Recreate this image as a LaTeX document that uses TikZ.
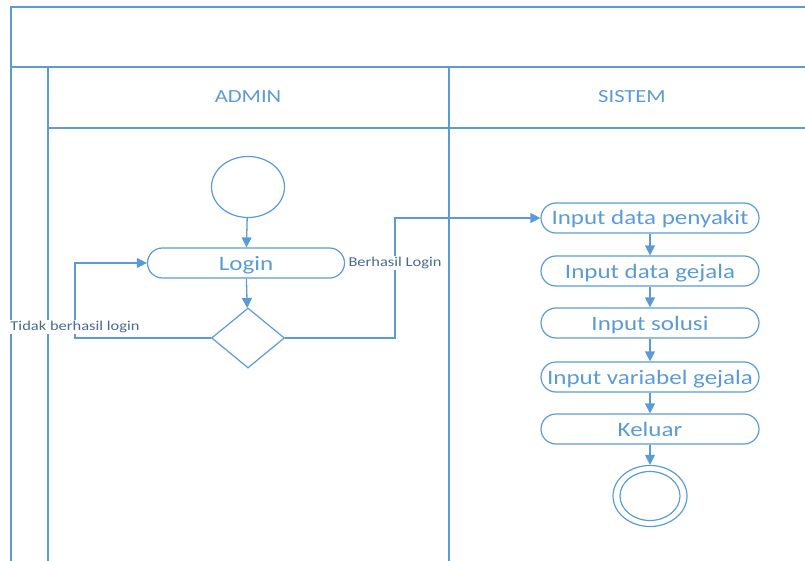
\documentclass[tikz,border=0pt]{standalone}
\usepackage{fontspec}
\setmainfont{Carlito}[FakeStretch=1.22]
\usetikzlibrary{arrows.meta,shapes.geometric}
\definecolor{laneblue}{HTML}{5B9BD5}
\definecolor{labelblue}{HTML}{4A6A94}
\tikzset{
  lane/.style={draw=laneblue, line width=1.3pt},
  action/.style={draw=laneblue, line width=1.2pt, rectangle, rounded corners=15pt,
    minimum height=30pt, inner sep=0pt, text=laneblue, text height=15pt, text depth=1pt,
    font=\fontsize{20.5}{20.5}\selectfont},
  startnode/.style={draw=laneblue, line width=1.2pt, ellipse, minimum width=73pt,
    minimum height=61pt, inner sep=0pt},
  decision/.style={draw=laneblue, line width=1.2pt, diamond, minimum width=73pt,
    minimum height=60pt, inner sep=0pt},
  flow/.style={draw=laneblue, line width=1.3pt, -{Triangle[length=10pt,width=10pt]}},
  guard/.style={fill=white, inner sep=1pt, text=labelblue,
    font=\fontsize{13.5}{13.5}\selectfont},
  lanetitle/.style={text=laneblue, font=\fontsize{18.5}{18.5}\selectfont}
}
\begin{document}
\begin{tikzpicture}[x=1pt,y=-1pt]
\useasboundingbox (0,0) rectangle (805,561);

% swimlane frame
\draw[lane] (805,7) -- (11,7) -- (11,561);
\draw[lane] (11,67) -- (805,67);
\draw[lane] (48,67) -- (48,561);
\draw[lane] (449,67) -- (449,561);
\draw[lane] (48,128) -- (805,128);
\node[lanetitle] (tadmin) at (248,97) {ADMIN};
\node[lanetitle] (tsistem) at (632,97) {SISTEM};

% admin lane
\node[startnode] (start) at (248,187) {};
\node[action, minimum width=197pt] (login) at (246,263) {Login};
\node[decision] (dec) at (248,338) {};

% sistem lane
\node[action, minimum width=218pt] (p1) at (650,218) {Input data penyakit};
\node[action, minimum width=218pt] (p2) at (650,271) {Input data gejala};
\node[action, minimum width=218pt] (p3) at (650,323) {Input solusi};
\node[action, minimum width=218pt] (p4) at (650,377) {Input variabel gejala};
\node[action, minimum width=218pt] (p5) at (650,429) {Keluar};
\node[startnode, minimum width=74pt, minimum height=61pt] (stop) at (650,496) {};
\node[startnode, minimum width=60pt, minimum height=49pt] (stopin) at (650,496) {};

% connectors
\coordinate (retry) at (75,338);
\coordinate (ok) at (395,338);
\draw[flow] (start) -- (login);
\draw[flow] (login) -- (dec);
\draw[flow] (dec.west) -- (retry) |- (login.west);
\draw[flow] (dec.east) -- (ok) |- (p1.west);
\draw[flow] (p1) -- (p2);
\draw[flow] (p2) -- (p3);
\draw[flow] (p3) -- (p4);
\draw[flow] (p4) -- (p5);
\draw[flow] (p5) -- (stop);

% guard labels
\node[guard] (gfail) at (75,327) {Tidak berhasil login};
\node[guard] (gok) at (395,263) {Berhasil Login};
\end{tikzpicture}
\end{document}
